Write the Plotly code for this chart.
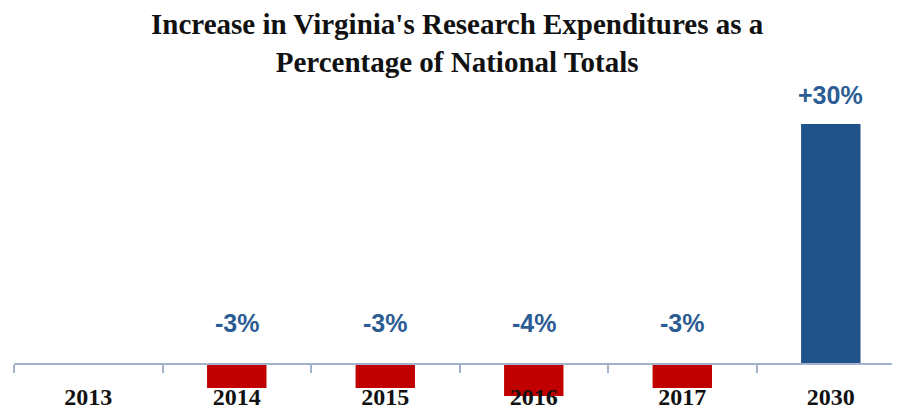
import plotly.graph_objects as go

years = ["2013", "2014", "2015", "2016", "2017", "2030"]
values = [0, -3, -3, -4, -3, 30]
labels = ["", "-3%", "-3%", "-4%", "-3%", "+30%"]

RED = "#C00000"
BLUE = "#1F538A"
colors = [BLUE if v > 0 else RED for v in values]

y_min, y_max = -5, 31

fig = go.Figure()
fig.add_trace(go.Bar(
    x=years, y=values, marker=dict(color=colors, line=dict(width=0)),
    width=0.4, hoverinfo="skip"))

for i, (v, t) in enumerate(zip(values, labels)):
    if not t:
        continue
    fig.add_annotation(
        x=i, y=v if v > 0 else 0, xref="x", yref="y", text="<b>" + t + "</b>", showarrow=False,
        yanchor="middle", yshift=29 if v > 0 else 41,
        font=dict(family="Liberation Sans, Arial", size=25, color="#2B5C93"))

fig.add_annotation(
    text="<b>Increase in Virginia's Research Expenditures as a<br>Percentage of National Totals</b>",
    xref="paper", yref="paper", x=0.5, xanchor="center",
    y=1.0, yanchor="bottom", yshift=36, showarrow=False,
    font=dict(family="Liberation Serif, Times New Roman, serif", size=29, color="#111111"))

fig.update_layout(
    width=892, height=405,
    margin=dict(l=6, r=0, t=108, b=9, autoexpand=False),
    paper_bgcolor="white", plot_bgcolor="white",
    showlegend=False,
    xaxis=dict(
        type="category", range=[-0.5, 5.466], automargin=False,
        anchor="free", position=(0 - y_min) / (y_max - y_min),
        showline=True, linecolor="#A3B3CB", linewidth=2,
        ticks="outside", tickson="boundaries", ticklen=8, tickcolor="#A3B3CB", tickwidth=2,
        ticklabelstandoff=11,
        tickfont=dict(family="Liberation Serif, Times New Roman, serif", size=24, color="#111111"),
        tickprefix="<b>", ticksuffix="</b>",
        showgrid=False, zeroline=False, fixedrange=True),
    yaxis=dict(range=[y_min, y_max], visible=False, automargin=False,
               showgrid=False, zeroline=False, fixedrange=True),
)

fig.write_html("out.html")
